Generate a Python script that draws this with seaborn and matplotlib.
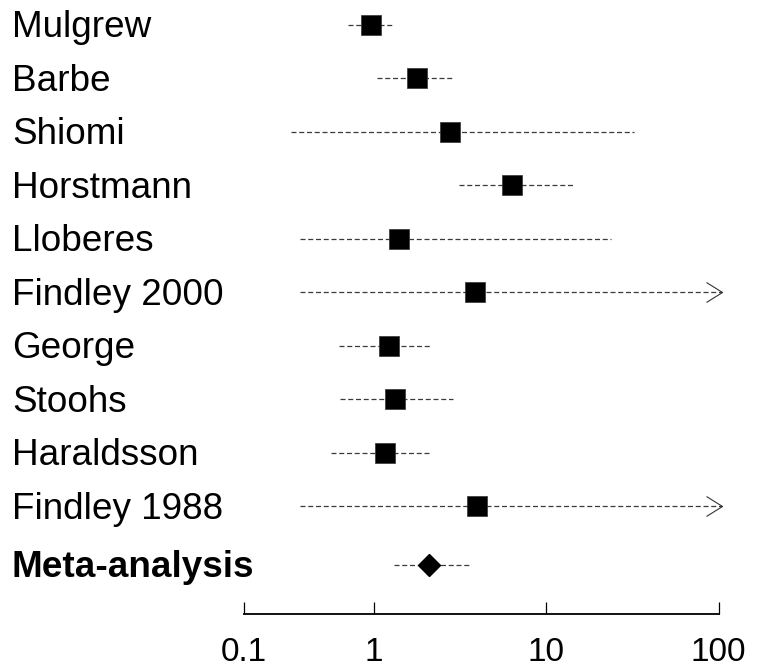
import numpy as np
import pandas as pd
import seaborn as sns
import matplotlib
matplotlib.use('Agg')
import matplotlib.pyplot as plt
from matplotlib.path import Path
from matplotlib import transforms

# study estimates with 95% CI (upper CI of the two Findley studies runs off the axis)
studies = ['Mulgrew', 'Barbe', 'Shiomi', 'Horstmann', 'Lloberes', 'Findley 2000',
           'George', 'Stoohs', 'Haraldsson', 'Findley 1988']
est = [0.96, 1.78, 2.77, 6.30, 1.39, 3.87, 1.22, 1.32, 1.16, 3.98]
lower = [0.71, 1.04, 0.33, 3.11, 0.37, 0.37, 0.63, 0.635, 0.56, 0.37]
upper = [1.27, 2.86, 32.3, 14.7, 23.7, 250.0, 2.11, 2.86, 2.11, 250.0]

meta_label = 'Meta-analysis'
meta_est = 2.09
meta_lower = 1.31
meta_upper = 3.55

tick_vals = [0.175, 1, 10, 100]
tick_labels = ['0.1', '1', '10', '100']
clip_hi = 104

def main():
    sns.set_theme(style='white')
    plt.rcParams['font.family'] = ['Liberation Sans', 'DejaVu Sans']
    plt.rcParams['text.color'] = 'black'
    plt.rcParams['xtick.color'] = 'black'
    plt.rcParams['xtick.labelcolor'] = 'black'

    df = pd.DataFrame({'study': studies, 'est': est, 'lower': lower, 'upper': upper})
    df['row'] = np.arange(len(df))
    meta_row = len(df) + 0.1

    fig = plt.figure(figsize=(7.62, 6.67), dpi=100)
    ax = fig.add_axes([243.5 / 762, 1 - 614 / 667, (718.7 - 243.5) / 762, 614 / 667])
    ax.set_xscale('log')
    ax.set_xlim(tick_vals[0], tick_vals[-1])
    ax.set_ylim(11.01, -0.467)

    lc = '#3a3a3a'
    ls = (0, (4, 2.2))
    lw = 0.9
    for _, r in df.iterrows():
        hi = min(r['upper'], clip_hi)
        ax.plot([r['lower'], hi], [r['row'], r['row']], color=lc, lw=lw, ls=ls,
                clip_on=False, zorder=1)
        if r['upper'] > clip_hi:
            head = Path([(-1.6, 1), (0, 0), (-1.6, -1)],
                        [Path.MOVETO, Path.LINETO, Path.LINETO])
            ax.plot([hi], [r['row']], marker=head, ms=23, mfc='none', mec='#333333',
                    mew=0.8, ls='none', clip_on=False, zorder=2)
    ax.plot([meta_lower, meta_upper], [meta_row, meta_row], color=lc, lw=lw, ls=ls,
            clip_on=False, zorder=1)

    sns.scatterplot(data=df, x='est', y='row', marker='s', s=14.4 ** 2, color='black',
                    edgecolor='#333333', linewidth=0.5, ax=ax, zorder=3, clip_on=False)
    ax.plot([meta_est], [meta_row], marker='D', ms=11, color='black', ls='none',
            zorder=3, clip_on=False)

    # labels down the left side
    trans = transforms.blended_transform_factory(fig.transFigure, ax.transData)
    for _, r in df.iterrows():
        ax.text(12 / 762, r['row'] + 0.225, r['study'], transform=trans, fontsize=26.6,
                color='black', ha='left', va='baseline')
    ax.text(12 / 762, meta_row + 0.225, meta_label, transform=trans, fontsize=26.6,
            color='black', fontweight='bold', ha='left', va='baseline')

    for s in ['top', 'right', 'left']:
        ax.spines[s].set_visible(False)
    ax.spines['bottom'].set_linewidth(1.3)
    ax.spines['bottom'].set_color('black')
    ax.set_yticks([])
    ax.set_xticks(tick_vals)
    ax.set_xticklabels(tick_labels)
    ax.xaxis.set_minor_locator(matplotlib.ticker.NullLocator())
    ax.tick_params(axis='x', direction='in', length=8.6, width=0.9, color='black',
                   labelcolor='black', labelsize=24, pad=16.5, bottom=True)
    ax.set_xlabel('')
    ax.set_ylabel('')
    ax.patch.set_alpha(0)

    fig.savefig('out.png', dpi=100)

if __name__ == '__main__':
    main()
